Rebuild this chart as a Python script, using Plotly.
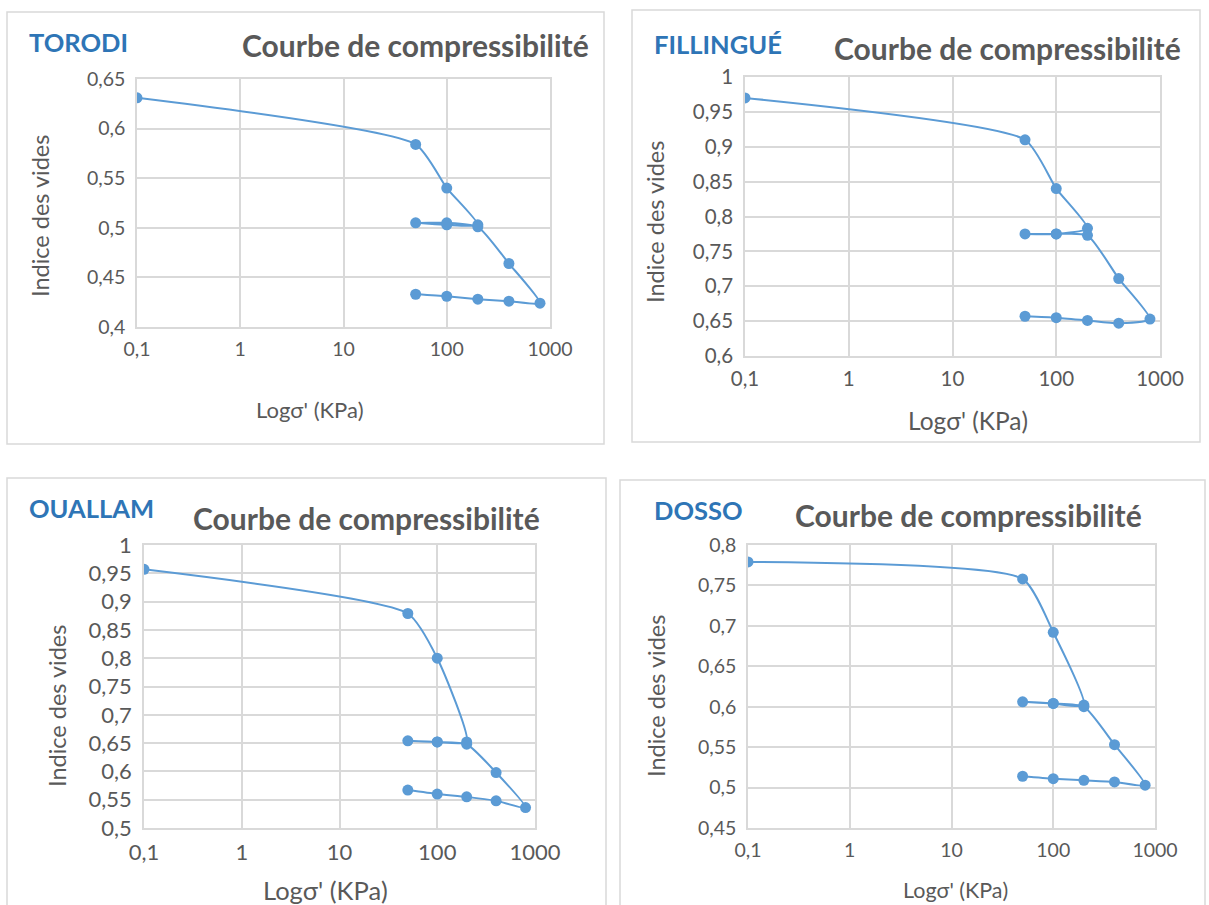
import plotly.graph_objects as go

W, H = 1209, 905

# contrainte effective (kPa) : chargement, déchargement, rechargement, déchargement
sigma = [0.1, 50, 100, 200, 100, 50, 100, 200, 400, 800, 400, 200, 100, 50]

# indice des vides lus sur chaque courbe
e_torodi = [0.631, 0.584, 0.540, 0.503, 0.503, 0.505, 0.505, 0.501, 0.464, 0.424, 0.426, 0.428, 0.431, 0.433]
e_fillingue = [0.970, 0.910, 0.840, 0.783, 0.775, 0.775, 0.775, 0.773, 0.711, 0.653, 0.647, 0.651, 0.655, 0.657]
e_ouallam = [0.957, 0.879, 0.800, 0.652, 0.652, 0.654, 0.652, 0.648, 0.598, 0.536, 0.548, 0.555, 0.560, 0.567]
e_dosso = [0.779, 0.758, 0.692, 0.602, 0.604, 0.606, 0.604, 0.600, 0.553, 0.503, 0.507, 0.509, 0.511, 0.514]

sites = ["TORODI", "FILLINGUÉ", "OUALLAM", "DOSSO"]
x_ticks = [0.1, 1, 10, 100, 1000]
x_ticklabels = ["0,1", "1", "10", "100", "1000"]
y_ranges = [(0.4, 0.65), (0.6, 1.0), (0.5, 1.0), (0.45, 0.8)]
y_step = 0.05

TITLE = "Courbe de compressibilité"
X_TITLE = "Logσ' (KPa)"
Y_TITLE = "Indice des vides"

BLUE = "#5B9BD5"
GRID = "#D9D9D9"
TXT = "#595959"
FONT = "Lato, 'Open Sans', sans-serif"

# mise en page (pixels) : boîte, zone de tracé, positions des textes, tailles de police
panels = [
    dict(box=(7, 12, 604, 444), plot=(137, 79, 550, 327), tick=19.5, xts=22,
         site=(27, 42), title=(415, 45), xt=(310, 410), yt=(40, 216)),
    dict(box=(632, 10, 1200, 442), plot=(745, 77, 1160, 356), tick=20.5, xts=24.5,
         site=(652, 44), title=(1007, 48), xt=(968, 421), yt=(655, 222)),
    dict(box=(7, 478, 606, 905), plot=(144, 545, 535, 828), tick=22, xts=25.5,
         site=(27, 508), title=(366, 518), xt=(325, 890), yt=(57, 706)),
    dict(box=(620, 480, 1205, 905), plot=(748, 545, 1155, 828), tick=19.5, xts=21.5,
         site=(652, 510), title=(968, 515), xt=(955, 890), yt=(656, 696)),
]
series = [e_torodi, e_fillingue, e_ouallam, e_dosso]


def px(x):
    return x / W


def py(y):
    return 1 - y / H


fig = go.Figure()
shapes, annotations = [], []

for i, (site, e, (y0, y1), p) in enumerate(zip(sites, series, y_ranges, panels)):
    n = "" if i == 0 else str(i + 1)
    fig.add_trace(go.Scatter(
        x=sigma, y=e, mode="lines+markers",
        line=dict(color=BLUE, width=2, shape="spline", smoothing=0.55),
        marker=dict(color=BLUE, size=11),
        xaxis="x" + n, yaxis="y" + n, showlegend=False,
    ))

    l, t, r, b = p["plot"]
    nticks = int(round((y1 - y0) / y_step))
    yvals = [round(y0 + k * y_step, 2) for k in range(nticks + 1)]
    ytext = [f"{v:g}".replace(".", ",") for v in yvals]
    tickfont = dict(family=FONT, size=p["tick"], color=TXT)

    fig.update_layout(**{
        "xaxis" + n: dict(
            type="log", range=[-1, 3], domain=[px(l), px(r)],
            anchor="y" + n, tickvals=x_ticks, ticktext=x_ticklabels,
            showgrid=True, gridcolor=GRID, gridwidth=1.5,
            showline=True, linecolor=GRID, linewidth=1.5, mirror=True,
            ticks="", zeroline=False, ticklabelstandoff=4,
            automargin=False, tickfont=tickfont,
        ),
        "yaxis" + n: dict(
            range=[y0, y1], domain=[py(b), py(t)], anchor="x" + n,
            tickvals=yvals, ticktext=ytext,
            showgrid=True, gridcolor=GRID, gridwidth=1.5,
            showline=True, linecolor=GRID, linewidth=1.5, mirror=True,
            ticks="", zeroline=False, ticklabelstandoff=6,
            automargin=False, tickfont=tickfont,
        ),
    })

    # cadre du graphique (ouvert en bas si coupé par le bord de l'image)
    bl, bt, br, bb = p["box"]
    if bb >= H:
        path = f"M {px(bl)},{py(bb)} L {px(bl)},{py(bt)} L {px(br)},{py(bt)} L {px(br)},{py(bb)}"
        shapes.append(dict(type="path", path=path, xref="paper", yref="paper",
                           line=dict(color=GRID, width=1.5), layer="below"))
    else:
        shapes.append(dict(type="rect", xref="paper", yref="paper",
                           x0=px(bl), x1=px(br), y0=py(bb), y1=py(bt),
                           line=dict(color=GRID, width=1.5), layer="below"))

    annotations += [
        dict(text=f"<b>{site}</b>", x=px(p["site"][0]), y=py(p["site"][1]),
             xanchor="left", yanchor="middle",
             font=dict(family=FONT, size=25.5, color="#2E75B6")),
        dict(text=f"<b>{TITLE}</b>", x=px(p["title"][0]), y=py(p["title"][1]),
             xanchor="center", yanchor="middle",
             font=dict(family=FONT, size=30, color=TXT)),
        dict(text=X_TITLE, x=px(p["xt"][0]), y=py(p["xt"][1]),
             xanchor="center", yanchor="middle",
             font=dict(family=FONT, size=p["xts"], color=TXT)),
        dict(text=Y_TITLE, x=px(p["yt"][0]), y=py(p["yt"][1]), textangle=-90,
             xanchor="center", yanchor="middle",
             font=dict(family=FONT, size=23.5, color=TXT)),
    ]

for a in annotations:
    a.update(xref="paper", yref="paper", showarrow=False)

fig.update_layout(
    template="none",
    width=W, height=H, margin=dict(l=0, r=0, t=0, b=0, pad=0),
    autosize=False,
    paper_bgcolor="white", plot_bgcolor="white",
    shapes=shapes, annotations=annotations,
)

# pas de marge de page autour de la figure
fig.write_html(
    "out.html",
    config={"displayModeBar": False},
    post_script="document.body.style.margin='0';document.body.style.overflow='hidden';",
)
